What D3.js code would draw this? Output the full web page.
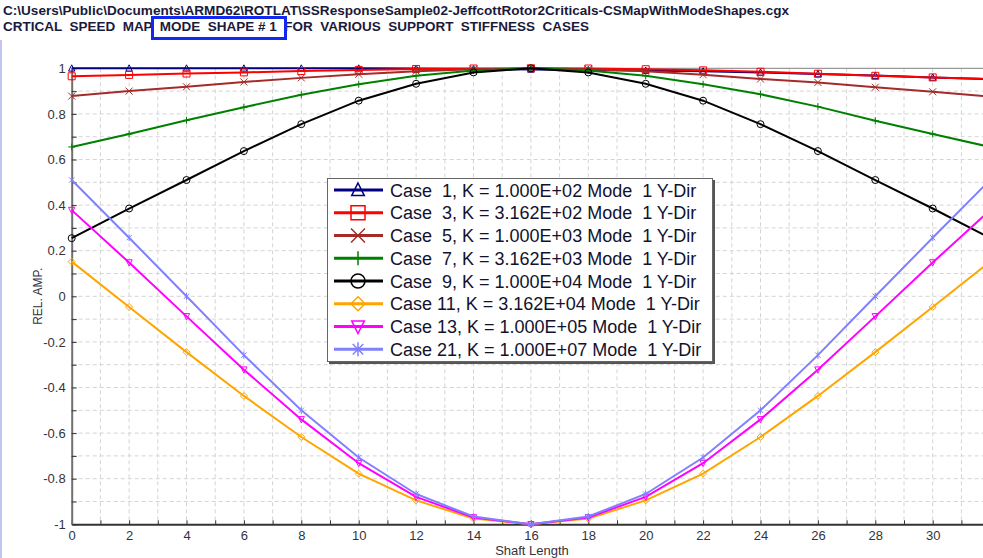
<!DOCTYPE html>
<html>
<head>
<meta charset="utf-8">
<script src="https://cdn.jsdelivr.net/npm/d3@7"></script>
<style>
  body { margin: 0; background: #fff; }
  svg { display: block; font-family: "Liberation Sans", Arial, sans-serif; }
  text { white-space: pre; }
</style>
</head>
<body>
<div id="chart"></div>
<script>
// Shaft positions where each mode shape is sampled
const positions = [0, 2, 4, 6, 8, 10, 12, 14, 16, 18, 20, 22, 24, 26, 28, 30, 32];

// Relative amplitude per stiffness case
const case1  = [1.000, 1.000, 1.000, 1.000, 1.000, 1.000, 0.999, 0.997, 0.995, 0.993, 0.990, 0.987, 0.982, 0.975, 0.968, 0.960, 0.952];
const case3  = [0.965, 0.971, 0.977, 0.982, 0.988, 0.993, 0.997, 0.999, 1.000, 0.999, 0.996, 0.991, 0.985, 0.976, 0.967, 0.960, 0.953];
const case5  = [0.878, 0.900, 0.919, 0.940, 0.958, 0.974, 0.987, 0.996, 1.000, 0.996, 0.987, 0.972, 0.953, 0.938, 0.917, 0.897, 0.876];
const case7  = [0.655, 0.712, 0.772, 0.829, 0.884, 0.930, 0.967, 0.990, 1.000, 0.990, 0.967, 0.930, 0.886, 0.832, 0.770, 0.712, 0.655];
const case9  = [0.255, 0.385, 0.510, 0.637, 0.755, 0.858, 0.932, 0.982, 1.000, 0.982, 0.932, 0.858, 0.755, 0.637, 0.510, 0.385, 0.255];
const case11 = [0.152, -0.047, -0.245, -0.437, -0.617, -0.778, -0.895, -0.975, -1.000, -0.975, -0.895, -0.778, -0.617, -0.437, -0.245, -0.047, 0.152];
const case13 = [0.378, 0.148, -0.088, -0.322, -0.540, -0.732, -0.880, -0.970, -1.000, -0.970, -0.880, -0.732, -0.540, -0.322, -0.088, 0.148, 0.378];
const case21 = [0.510, 0.257, 0.000, -0.258, -0.500, -0.707, -0.867, -0.966, -1.000, -0.966, -0.867, -0.707, -0.500, -0.258, 0.000, 0.257, 0.510];

const legendLabels = [
  "Case  1, K = 1.000E+02 Mode  1 Y-Dir",
  "Case  3, K = 3.162E+02 Mode  1 Y-Dir",
  "Case  5, K = 1.000E+03 Mode  1 Y-Dir",
  "Case  7, K = 3.162E+03 Mode  1 Y-Dir",
  "Case  9, K = 1.000E+04 Mode  1 Y-Dir",
  "Case 11, K = 3.162E+04 Mode  1 Y-Dir",
  "Case 13, K = 1.000E+05 Mode  1 Y-Dir",
  "Case 21, K = 1.000E+07 Mode  1 Y-Dir"
];
const seriesValues = [case1, case3, case5, case7, case9, case11, case13, case21];
const seriesColors = ["#000080", "#ff0000", "#a52a2a", "#008000", "#000000", "#ffa500", "#ff00ff", "#8080ff"];
const seriesMarkers = ["triangle", "square", "x", "plus", "circle", "diamond", "tridown", "asterisk"];

const xTicks = d3.range(0, 33, 1);
const yTicks = d3.range(-10, 11, 1).map(d => d / 10);

const W = 983, H = 558;

const svg = d3.select("#chart").append("svg")
  .attr("width", W)
  .attr("height", H);

const x = d3.scaleLinear().domain([0, 32]).range([71.7, 990.1]);
const y = d3.scaleLinear().domain([-1, 1]).range([524.3, 68.3]);

// little window edge on the left
svg.append("rect").attr("x", 0).attr("y", 40).attr("width", 2).attr("height", H - 40).attr("fill", "#c4c4f4");

// titles (stretched to the width they take in the original)
svg.append("text")
  .attr("x", 3).attr("y", 15)
  .attr("font-size", 13.5).attr("font-weight", "bold").attr("fill", "#1a1a3a")
  .attr("textLength", 786).attr("lengthAdjust", "spacingAndGlyphs")
  .text("C:\\Users\\Public\\Documents\\ARMD62\\ROTLAT\\SSResponseSample02-JeffcottRotor2Criticals-CSMapWithModeShapes.cgx");
svg.append("text")
  .attr("x", 3).attr("y", 31)
  .attr("font-size", 13.5).attr("font-weight", "bold").attr("fill", "#1a1a3a")
  .attr("textLength", 586).attr("lengthAdjust", "spacingAndGlyphs")
  .text("CRTICAL  SPEED  MAP  MODE  SHAPE # 1  FOR  VARIOUS  SUPPORT  STIFFNESS  CASES");
svg.append("rect")
  .attr("x", 152.5).attr("y", 17.5).attr("width", 133).attr("height", 21)
  .attr("fill", "none").attr("stroke", "#1028f0").attr("stroke-width", 3);

// grid
const grid = svg.append("g").attr("stroke", "#d4d4d4").attr("stroke-dasharray", "4,3");
grid.selectAll("line.v").data(xTicks.filter(d => d > 0)).join("line")
  .attr("x1", d => x(d)).attr("x2", d => x(d))
  .attr("y1", y(1)).attr("y2", y(-1));
grid.selectAll("line.h").data(yTicks.filter(d => d > -1 && d < 1)).join("line")
  .attr("x1", x(0)).attr("x2", W)
  .attr("y1", d => y(d)).attr("y2", d => y(d));

// top border of the plot
svg.append("line")
  .attr("x1", x(0)).attr("x2", W).attr("y1", y(1)).attr("y2", y(1))
  .attr("stroke", "#808080").attr("stroke-width", 1);

// axes
const fmt = d => String(+d.toFixed(1));
const xAxis = d3.axisBottom(x)
  .tickValues(xTicks)
  .tickSizeInner(-4).tickSizeOuter(0).tickPadding(6)
  .tickFormat(d => d % 2 === 0 && d < 32 ? fmt(d) : "");
const yAxis = d3.axisLeft(y)
  .tickValues(yTicks)
  .tickSizeInner(-5).tickSizeOuter(0).tickPadding(6)
  .tickFormat(d => Math.round(d * 10) % 2 === 0 ? fmt(d) : "");

const gx = svg.append("g").attr("transform", `translate(0,${y(-1)})`).call(xAxis);
gx.select(".domain").attr("stroke", "#333").attr("stroke-width", 2);
gx.selectAll(".tick line").attr("stroke", "#333");
gx.selectAll("text").attr("font-size", 13).attr("fill", "#333340").attr("font-family", null);

const gy = svg.append("g").attr("transform", `translate(${x(0)},0)`).call(yAxis);
gy.select(".domain").attr("stroke", "#707070").attr("stroke-width", 2);
gy.selectAll(".tick line").attr("stroke", "#333");
gy.selectAll("text").attr("font-size", 13).attr("fill", "#333340").attr("font-family", null);

svg.append("text")
  .attr("transform", `translate(42,${(y(1) + y(-1)) / 2}) rotate(-90)`)
  .attr("text-anchor", "middle").attr("font-size", 12).attr("fill", "#333340")
  .text("REL. AMP.");
svg.append("text")
  .attr("x", 532).attr("y", 555)
  .attr("text-anchor", "middle").attr("font-size", 13).attr("fill", "#333340")
  .text("Shaft Length");

// marker shapes, r = half size
function markerPath(type, r) {
  switch (type) {
    case "triangle": return `M0,${-r}L${r * 0.9},${r * 0.8}L${-r * 0.9},${r * 0.8}Z`;
    case "tridown": return `M0,${r}L${r * 0.9},${-r * 0.8}L${-r * 0.9},${-r * 0.8}Z`;
    case "square": return `M${-r},${-r}H${r}V${r}H${-r}Z`;
    case "x": return `M${-r},${-r}L${r},${r}M${r},${-r}L${-r},${r}`;
    case "plus": return `M${-r},0H${r}M0,${-r}V${r}`;
    case "circle": return `M${r},0A${r},${r} 0 1 1 ${-r},0A${r},${r} 0 1 1 ${r},0`;
    case "diamond": return `M0,${-r}L${r},0L0,${r}L${-r},0Z`;
    case "asterisk": {
      const k = r * 0.75;
      return `M0,${-r}V${r}M${-k},${-k}L${k},${k}M${k},${-k}L${-k},${k}`;
    }
  }
}

const line = d3.line()
  .x((d, i) => x(positions[i]))
  .y(d => y(d));

// series lines and markers
seriesValues.forEach((vals, s) => {
  const g = svg.append("g");
  g.append("path")
    .datum(vals)
    .attr("fill", "none")
    .attr("stroke", seriesColors[s])
    .attr("stroke-width", 2)
    .attr("d", line);
  g.selectAll("path.m").data(vals).join("path")
    .attr("class", "m")
    .attr("transform", (d, i) => `translate(${x(positions[i])},${y(d)})`)
    .attr("d", markerPath(seriesMarkers[s], 3.5))
    .attr("fill", "none")
    .attr("stroke", seriesColors[s])
    .attr("stroke-width", 1);
});

// legend
const lg = svg.append("g").attr("transform", "translate(327,178)");
lg.append("rect").attr("x", 2).attr("y", 2).attr("width", 386).attr("height", 184).attr("fill", "#555");
lg.append("rect").attr("x", 0.5).attr("y", 0.5).attr("width", 385).attr("height", 183)
  .attr("fill", "#fff").attr("stroke", "#666");

legendLabels.forEach((label, s) => {
  const cy = 12 + s * 22.75;
  lg.append("line")
    .attr("x1", 7).attr("x2", 56).attr("y1", cy).attr("y2", cy)
    .attr("stroke", seriesColors[s]).attr("stroke-width", 3);
  lg.append("path")
    .attr("transform", `translate(31,${cy})`)
    .attr("d", markerPath(seriesMarkers[s], 7))
    .attr("fill", "none")
    .attr("stroke", seriesColors[s])
    .attr("stroke-width", 1.5);
  lg.append("text")
    .attr("x", 63).attr("y", cy + 6.5)
    .attr("font-size", 18).attr("fill", "#12122e")
    .text(label);
});
</script>
</body>
</html>
